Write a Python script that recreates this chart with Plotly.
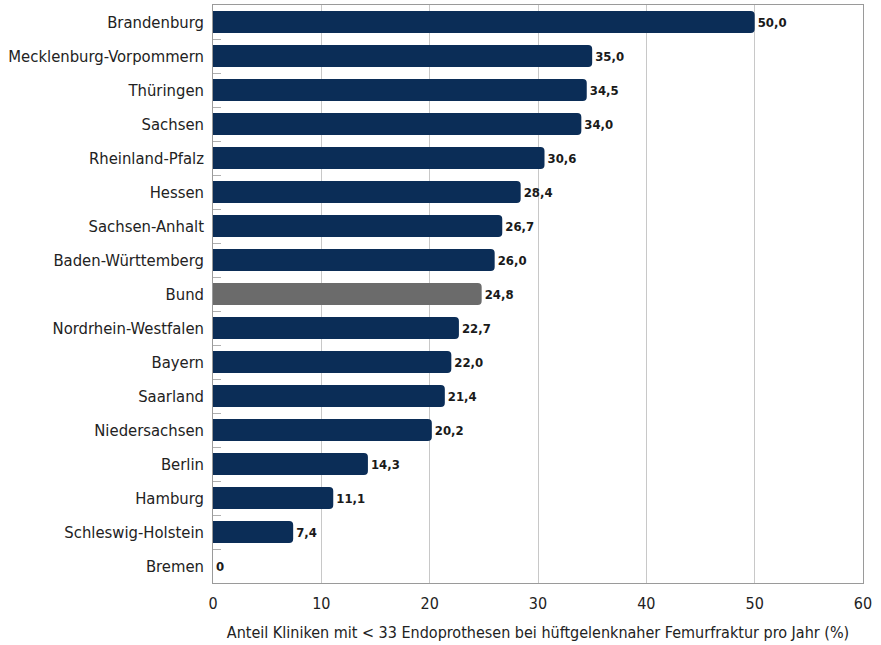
import plotly.graph_objects as go

states = ["Brandenburg", "Mecklenburg-Vorpommern", "Thüringen", "Sachsen", "Rheinland-Pfalz",
          "Hessen", "Sachsen-Anhalt", "Baden-Württemberg", "Bund", "Nordrhein-Westfalen",
          "Bayern", "Saarland", "Niedersachsen", "Berlin", "Hamburg", "Schleswig-Holstein", "Bremen"]
values = [50.0, 35.0, 34.5, 34.0, 30.6, 28.4, 26.7, 26.0, 24.8, 22.7, 22.0, 21.4, 20.2, 14.3, 11.1, 7.4, 0]
x_ticks = [0, 10, 20, 30, 40, 50, 60]

NAVY = "#0b2d57"
GRAY = "#6b6b6b"
colors = [GRAY if s == "Bund" else NAVY for s in states]
labels = ["0" if v == 0 else f"{v:.1f}".replace(".", ",") for v in values]

FONT = "DejaVu Sans Condensed, Liberation Sans Narrow, sans-serif"

fig = go.Figure(go.Bar(
    x=values, y=states, orientation="h",
    marker=dict(color=colors, line=dict(width=0)),
    text=labels, textposition="outside", cliponaxis=False,
    textfont=dict(family=FONT, size=13, color="#1a1a1a", weight="bold"),
))

fig.update_layout(
    width=881, height=645,
    margin=dict(l=213, r=18, t=5, b=62, autoexpand=False),
    paper_bgcolor="white", plot_bgcolor="white",
    bargap=0.35, barcornerradius=4,
    showlegend=False,
    font=dict(family=FONT, size=16, color="#222"),
)
fig.update_xaxes(
    range=[0, 60], tickvals=x_ticks, ticktext=[str(t) for t in x_ticks],
    showgrid=True, gridcolor="#c8c8c8", gridwidth=1,
    showline=True, linecolor="#9a9a9a", linewidth=1, mirror=True,
    zeroline=False, ticks="", ticklen=0, automargin=False,
    ticklabelstandoff=6,
    tickfont=dict(family=FONT, size=16, color="#222"),
    title=dict(text="Anteil Kliniken mit < 33 Endoprothesen bei hüftgelenknaher Femurfraktur pro Jahr (%)",
               font=dict(family=FONT, size=16, color="#222"), standoff=14),
)
fig.update_yaxes(
    categoryorder="array", categoryarray=states[::-1],
    showline=True, linecolor="#9a9a9a", linewidth=1, mirror=True,
    ticks="inside", tickson="boundaries", ticklen=8, tickcolor="#b0b0b0",
    showgrid=False, automargin=False,
    tickfont=dict(family=FONT, size=16.5, color="#222"),
    ticksuffix=" ",
)

fig.write_html("out.html", config={"displayModeBar": False},
               post_script="document.body.style.margin='0';")
